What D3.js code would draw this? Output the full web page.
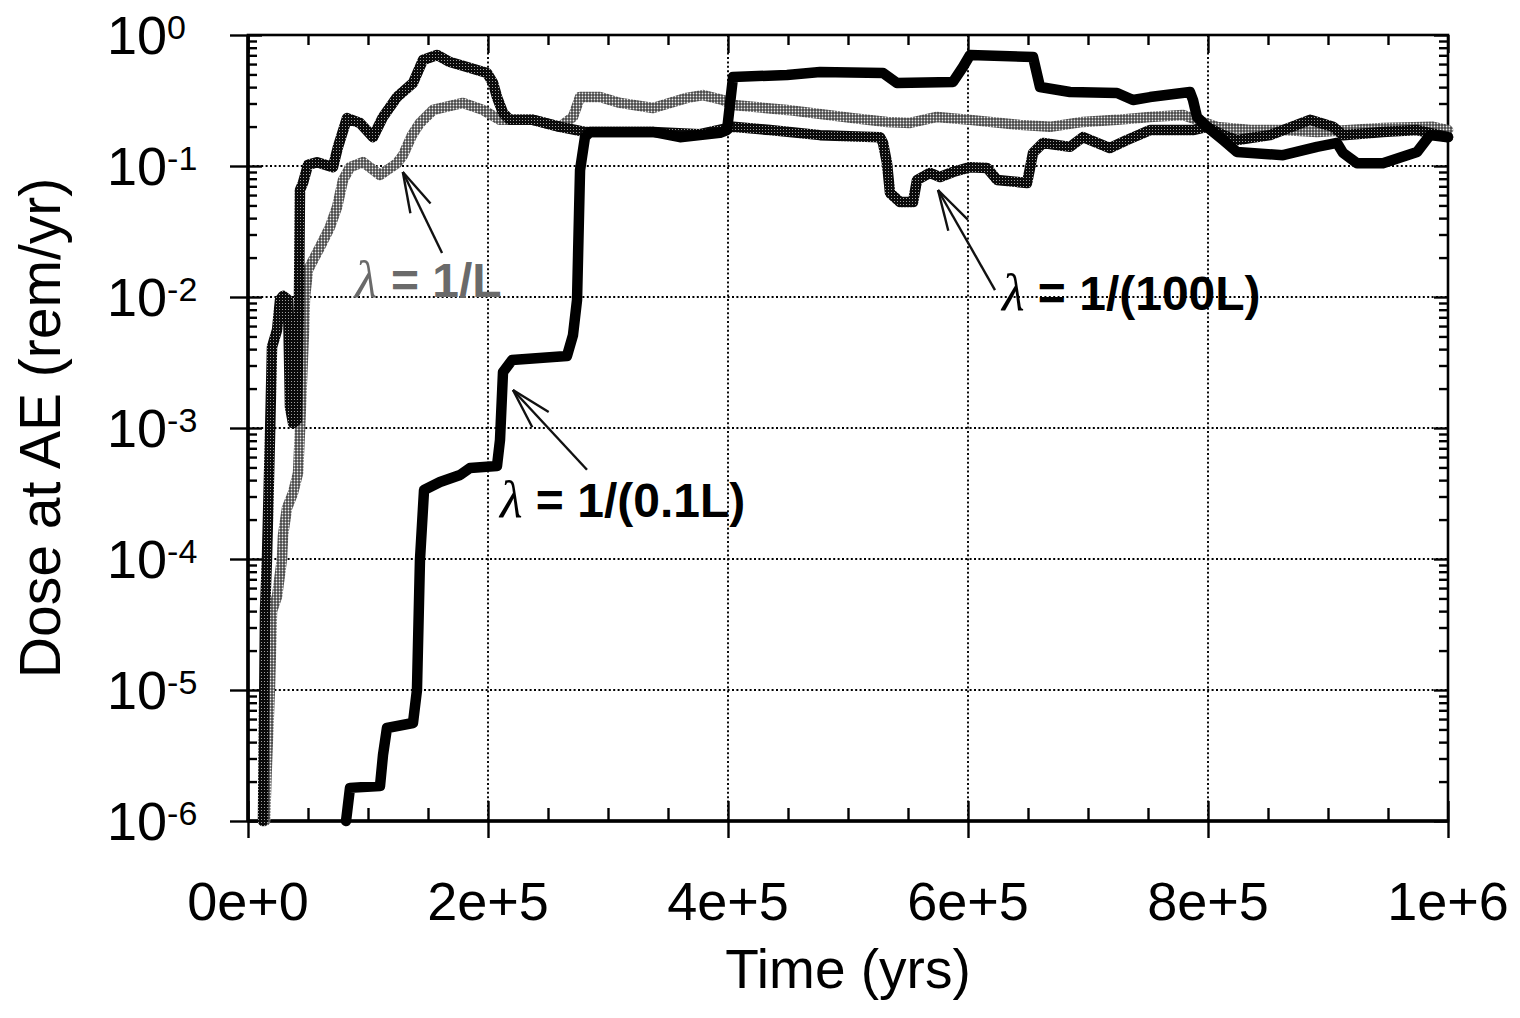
<!DOCTYPE html>
<html>
<meta charset="utf-8">
<style>
    body { margin: 0; background: #fff; }
    svg { background-color: #fff; display: block; }
    text { font-family: 'Liberation Sans', Arial, Helvetica, sans-serif; fill: #000; }
    .lam { font-family: 'Liberation Serif', 'DejaVu Serif', serif; font-weight: normal; font-style: italic; }
</style>

<body>
  <svg width="1520" height="1018"></svg>

  <script src="https://d3js.org/d3.v7.min.js"></script>

  <script>
    // time (yrs) and dose (rem/yr), one pair of arrays per curve
    let timeTenthL = [81700, 85000, 110000, 112500, 115800, 137500, 140800, 143300, 146700, 160000,
        176700, 185000, 207500, 210000, 212500, 220000, 265800, 270800, 274200, 276700,
        280800, 285000, 337500, 360000, 393300, 399200, 404200, 449200, 476700, 529200,
        540800, 587500, 595800, 601700, 654200, 660000, 685000, 724200, 737500, 751700,
        785000, 787500, 790800, 799200, 812500, 824200, 862500, 890800, 907500, 912500,
        924200, 945800, 974200, 985000, 1000000];
    let doseTenthL = [1e-6, 1.79e-6, 1.85e-6, 3.19e-6, 5.13e-6, 5.6e-6, 1e-5, 9.8e-5, 3.36e-4, 3.87e-4,
        4.38e-4, 4.95e-4, 5.13e-4, 8.1e-4, 2.67e-3, 3.3e-3, 3.55e-3, 5.1e-3, 9.5e-3, 0.093,
        0.166, 0.182, 0.182, 0.166, 0.179, 0.188, 0.478, 0.495, 0.522, 0.513,
        0.43, 0.438, 0.57, 0.704, 0.68, 0.401, 0.367, 0.361, 0.319, 0.336,
        0.367, 0.319, 0.237, 0.199, 0.158, 0.128, 0.121, 0.14, 0.15, 0.126,
        0.105, 0.105, 0.128, 0.172, 0.166];

    let timeOneL = [14200, 15800, 18300, 20000, 24200, 28300, 29200, 32500, 37500, 41700,
        43300, 45000, 46700, 47500, 50000, 60000, 68300, 74200, 79200, 85000,
        95800, 110000, 124200, 129200, 136700, 143300, 154200, 179200, 195800, 210000,
        237500, 260000, 270800, 276700, 293300, 310000, 337500, 365800, 379200, 395800,
        404200, 449200, 504200, 532500, 551700, 574200, 601700, 643300, 668300, 695800,
        724200, 751700, 779200, 790800, 807500, 835000, 862500, 890800, 918300, 945800,
        987500, 1000000];
    let doseOneL = [1e-6, 2.77e-6, 1.05e-5, 4.0e-5, 5.2e-5, 1e-4, 1.52e-4, 2.45e-4, 3.19e-4, 4.53e-4,
        9.5e-4, 2.32e-3, 5.6e-3, 0.01, 0.0161, 0.0241, 0.0342, 0.0486, 0.0782, 0.098,
        0.107, 0.0854, 0.105, 0.121, 0.172, 0.213, 0.268, 0.303, 0.268, 0.225,
        0.225, 0.199, 0.237, 0.336, 0.336, 0.303, 0.277, 0.331, 0.348, 0.319,
        0.292, 0.268, 0.232, 0.217, 0.213, 0.237, 0.225, 0.206, 0.199, 0.217,
        0.225, 0.237, 0.245, 0.225, 0.199, 0.188, 0.188, 0.182, 0.188, 0.195,
        0.199, 0.188];

    let timeHundredL = [12500, 14200, 15800, 18300, 20000, 24200, 26700, 29200, 31700, 33300,
        35000, 37500, 40800, 42500, 43300, 45800, 50000, 57500, 70800, 75000,
        82500, 93300, 104200, 112500, 124200, 137500, 145800, 157500, 168300, 182500,
        199200, 204200, 207500, 212500, 218300, 237500, 260000, 280800, 337500, 376700,
        404200, 435000, 476700, 526700, 529200, 532500, 535000, 543300, 554200, 557500,
        568300, 576700, 587500, 601700, 615800, 624200, 649200, 654200, 662500, 685000,
        695800, 718300, 732500, 751700, 787500, 799200, 812500, 824200, 851700, 885000,
        904200, 912500, 945800, 974200, 1000000];
    let doseHundredL = [1e-6, 4.08e-5, 1e-4, 8.4e-4, 4.15e-3, 5.6e-3, 9.5e-3, 0.0102, 9.8e-3, 9.5e-3,
        1.45e-3, 1.09e-3, 1.15e-3, 9.5e-3, 0.0656, 0.0742, 0.102, 0.107, 0.098, 0.14,
        0.232, 0.213, 0.166, 0.237, 0.336, 0.43, 0.644, 0.704, 0.622, 0.57,
        0.513, 0.43, 0.336, 0.254, 0.225, 0.225, 0.199, 0.182, 0.182, 0.175,
        0.199, 0.188, 0.172, 0.166, 0.15, 0.105, 0.0622, 0.0531, 0.0531, 0.0782,
        0.0885, 0.0824, 0.09, 0.098, 0.0966, 0.0782, 0.0742, 0.126, 0.15, 0.14,
        0.166, 0.137, 0.158, 0.188, 0.188, 0.199, 0.172, 0.158, 0.172, 0.225,
        0.199, 0.172, 0.182, 0.188, 0.166];

    // axis ticks
    let majorTimes = [0, 2e5, 4e5, 6e5, 8e5, 1e6];
    let timeLabels = ["0e+0", "2e+5", "4e+5", "6e+5", "8e+5", "1e+6"];
    let decadeExps = [0, -1, -2, -3, -4, -5, -6];

    // annotations: label, text start (time, dose), arrow tail, arrow tip
    let notes = [
        {eq: " = 1/L", at: [89200, 0.01], tail: [161700, 0.0217], tip: [129000, 0.09], color: "#6a6a6a"},
        {eq: " = 1/(0.1L)", at: [210000, 2.1e-4], tail: [282500, 4.8e-4], tip: [220800, 1.95e-3], color: "#000"},
        {eq: " = 1/(100L)", at: [628300, 7.96e-3], tail: [622500, 0.0113], tip: [575000, 0.0656], color: "#000"}
    ];

    let margin = {top: 35, right: 72, bottom: 197, left: 248},
        width = 1520 - margin.left - margin.right,
        height = 1018 - margin.top - margin.bottom;

    let root = d3.select("svg");

    // textures for the two patterned curves
    let defs = root.append("defs");
    let light = defs.append("pattern").attr("id", "texLight")
        .attr("patternUnits", "userSpaceOnUse").attr("width", 3).attr("height", 3);
    light.append("rect").attr("width", 3).attr("height", 3).attr("fill", "#474747");
    light.append("circle").attr("cx", 1.5).attr("cy", 1.5).attr("r", 0.9).attr("fill", "#eeeeee");
    let dark = defs.append("pattern").attr("id", "texDark")
        .attr("patternUnits", "userSpaceOnUse").attr("width", 3).attr("height", 3);
    dark.append("rect").attr("width", 3).attr("height", 3).attr("fill", "#0a0a0a");
    dark.append("circle").attr("cx", 1.5).attr("cy", 1.5).attr("r", 0.55).attr("fill", "#bbbbbb");

    let svg = root.append("g")
        .attr("transform", "translate(" + margin.left + "," + margin.top + ")");

    let xScale = d3.scaleLinear().domain([0, 1e6]).range([0, width]);
    let yScale = d3.scaleLog().domain([1e-6, 1]).range([height, 0]);

    let decades = decadeExps.map(e => Math.pow(10, e));
    let minorDoses = [];
    decadeExps.slice(1).forEach(function (e) {
        for (let m = 2; m <= 9; m++) minorDoses.push(m * Math.pow(10, e));
    });
    let minorTimes = d3.range(5e4, 1e6, 5e4).filter(t => t % 2e5 !== 0);

    // dotted grid
    svg.append("g").selectAll("line")
        .data(majorTimes.slice(1, -1))
        .join("line")
        .attr("x1", d => xScale(d)).attr("x2", d => xScale(d))
        .attr("y1", 0).attr("y2", height)
        .style("stroke", "#000").style("stroke-width", 1.9).style("stroke-dasharray", "2,2.4");
    svg.append("g").selectAll("line")
        .data(decades.slice(1, -1))
        .join("line")
        .attr("x1", 0).attr("x2", width)
        .attr("y1", d => yScale(d)).attr("y2", d => yScale(d))
        .style("stroke", "#000").style("stroke-width", 1.9).style("stroke-dasharray", "2,2.4");

    // tick marks (labels are drawn by hand below)
    function ticks(axis, tx, ty) {
        svg.append("g")
            .attr("transform", "translate(" + tx + "," + ty + ")")
            .call(axis.tickFormat(""))
            .call(g => g.select(".domain").remove())
            .call(g => g.selectAll("line").style("stroke-width", 2.4));
    }
    ticks(d3.axisLeft(yScale).tickValues(decades).tickSize(18), 0, 0);
    ticks(d3.axisRight(yScale).tickValues(decades).tickSize(14), 0, 0);
    ticks(d3.axisRight(yScale).tickValues(minorDoses).tickSize(9), 0, 0);
    ticks(d3.axisLeft(yScale).tickValues(decades).tickSize(14), width, 0);
    ticks(d3.axisLeft(yScale).tickValues(minorDoses).tickSize(9), width, 0);
    ticks(d3.axisBottom(xScale).tickValues(majorTimes).tickSize(17), 0, height);
    ticks(d3.axisTop(xScale).tickValues(majorTimes).tickSize(20), 0, height);
    ticks(d3.axisTop(xScale).tickValues(minorTimes).tickSize(13), 0, height);
    ticks(d3.axisBottom(xScale).tickValues(majorTimes).tickSize(18), 0, 0);
    ticks(d3.axisBottom(xScale).tickValues(minorTimes).tickSize(10), 0, 0);

    // frame
    svg.append("rect")
        .attr("width", width).attr("height", height)
        .style("fill", "none").style("stroke", "#000").style("stroke-width", 2.6);
    svg.append("line").attr("x1", 0).attr("x2", 0).attr("y1", 0).attr("y2", height)
        .style("stroke", "#000").style("stroke-width", 3.6);
    svg.append("line").attr("x1", 0).attr("x2", width).attr("y1", height).attr("y2", height)
        .style("stroke", "#000").style("stroke-width", 3.6);

    // curves
    let lineGenerator = d3.line()
        .x(d => xScale(d[0]))
        .y(d => yScale(d[1]));

    let curves = [
        {t: timeOneL, d: doseOneL, stroke: "url(#texLight)"},
        {t: timeHundredL, d: doseHundredL, stroke: "url(#texDark)"},
        {t: timeTenthL, d: doseTenthL, stroke: "#000"}
    ];
    svg.append("g").selectAll("path")
        .data(curves)
        .join("path")
        .attr("d", c => lineGenerator(c.t.map((t, i) => [t, c.d[i]])))
        .style("fill", "none")
        .style("stroke", c => c.stroke)
        .style("stroke-width", 10.5)
        .style("stroke-linejoin", "round")
        .style("stroke-linecap", "round");

    // arrows and curve labels
    let ang = 0.27, barb = 42;
    notes.forEach(function (n) {
        let tip = [xScale(n.tip[0]), yScale(n.tip[1])];
        let tail = [xScale(n.tail[0]), yScale(n.tail[1])];
        let a = Math.atan2(tail[1] - tip[1], tail[0] - tip[0]);
        let g = svg.append("g").style("stroke", "#111").style("stroke-width", 2.4).style("fill", "none");
        g.append("line").attr("x1", tail[0]).attr("y1", tail[1]).attr("x2", tip[0]).attr("y2", tip[1]);
        [-1, 1].forEach(function (s) {
            g.append("line").attr("x1", tip[0]).attr("y1", tip[1])
                .attr("x2", tip[0] + barb * Math.cos(a + s * ang))
                .attr("y2", tip[1] + barb * Math.sin(a + s * ang));
        });
        let txt = svg.append("text")
            .attr("x", xScale(n.at[0])).attr("y", yScale(n.at[1]))
            .style("font-size", "48px").style("font-weight", "bold")
            .style("fill", n.color);
        txt.append("tspan").attr("class", "lam").style("fill", n.color).style("font-size", "52px").text("λ");
        txt.append("tspan").style("fill", n.color).text(n.eq);
    });

    // y tick labels 10^n
    let yLab = svg.append("g").selectAll("text")
        .data(decadeExps)
        .join("text")
        .attr("x", -141)
        .attr("y", d => yScale(Math.pow(10, d)) + 19)
        .style("font-size", "54px");
    yLab.append("tspan").text("10");
    yLab.append("tspan").attr("dy", -15).style("font-size", "34px").text(d => d === 0 ? "0" : "-" + Math.abs(d));

    // x tick labels
    svg.append("g").selectAll("text")
        .data(majorTimes)
        .join("text")
        .attr("x", d => xScale(d))
        .attr("y", height + 99)
        .attr("text-anchor", "middle")
        .style("font-size", "54px")
        .text((d, i) => timeLabels[i]);

    // axis titles
    svg.append("text")
        .attr("x", width / 2).attr("y", height + 167)
        .attr("text-anchor", "middle")
        .style("font-size", "55px")
        .text("Time (yrs)");
    svg.append("text")
        .attr("transform", "translate(-188," + (height / 2) + ") rotate(-90)")
        .attr("text-anchor", "middle")
        .style("font-size", "57px")
        .text("Dose at AE (rem/yr)");
  </script>
</body>
</html>
